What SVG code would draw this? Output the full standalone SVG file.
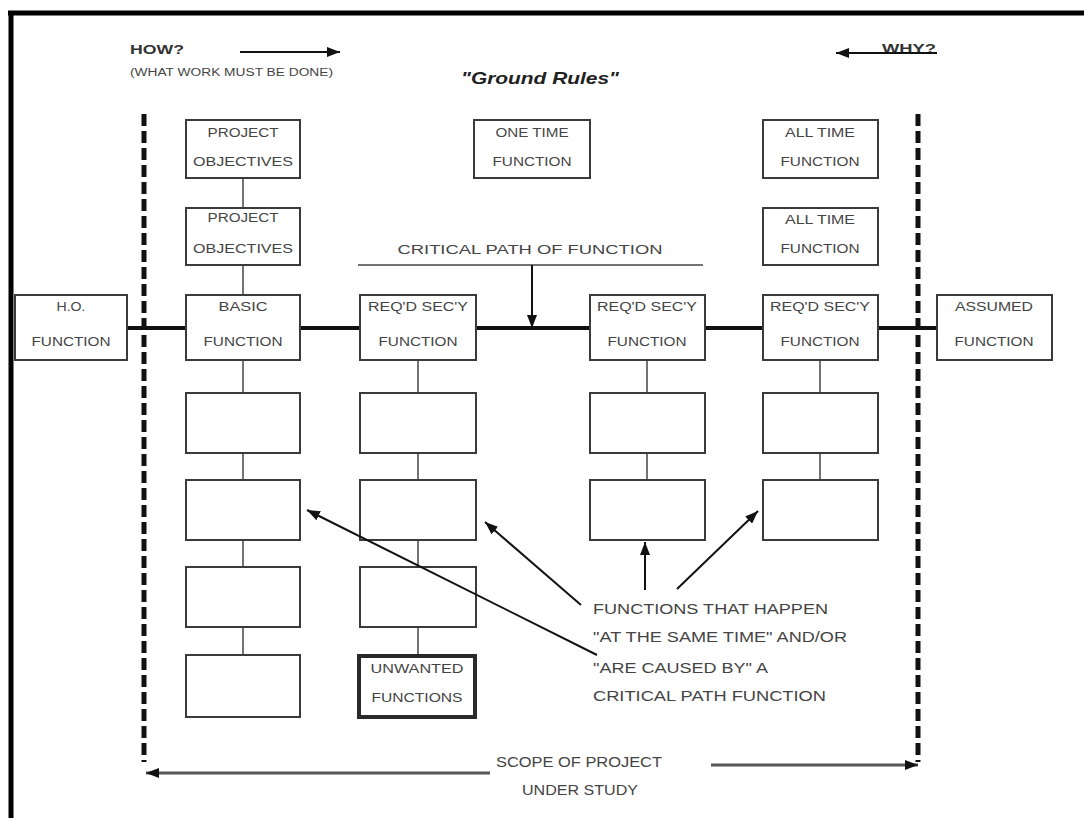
<svg xmlns="http://www.w3.org/2000/svg" width="1084" height="818" viewBox="0 0 1084 818">
  <style>
    .box { fill: #ffffff; stroke: #3a3a3a; stroke-width: 2; }
    .heavy { fill: #ffffff; stroke: #2a2a2a; stroke-width: 4; }
    .lbl { font-family: "Liberation Sans", Arial, sans-serif; font-size: 12px; fill: #444; text-anchor: middle; }
    .note { font-family: "Liberation Sans", Arial, sans-serif; font-size: 14px; fill: #444; }
    .link { stroke: #444; stroke-width: 1.5; fill: none; }
    .path { stroke: #111; stroke-width: 4; fill: none; }
    .arrow { stroke: #111; stroke-width: 2; fill: none; }
    .scope { stroke: #555; stroke-width: 3; fill: none; }
    .dash { stroke: #111; stroke-width: 5; stroke-dasharray: 12 5; fill: none; }
  </style>
  <defs>
    <marker id="head" markerUnits="userSpaceOnUse" markerWidth="14" markerHeight="10" refX="13" refY="5" orient="auto">
      <path d="M0,0 L13,5 L0,10 z" fill="#111"/>
    </marker>
  </defs>

  <rect width="1084" height="818" fill="#ffffff"/>

  <!-- outer frame (top and left edges) -->
  <line x1="8" y1="13" x2="1084" y2="13" stroke="#000" stroke-width="5"/>
  <line x1="11" y1="11" x2="11" y2="818" stroke="#000" stroke-width="5"/>

  <!-- header -->
  <g id="how">
    <text x="130" y="54" font-family="Liberation Sans, Arial, sans-serif" font-size="13" font-weight="bold" fill="#333" textLength="54" lengthAdjust="spacingAndGlyphs">HOW?</text>
    <text x="130" y="76" font-family="Liberation Sans, Arial, sans-serif" font-size="10" fill="#444" textLength="203" lengthAdjust="spacingAndGlyphs">(WHAT WORK MUST BE DONE)</text>
    <line x1="240" y1="52" x2="340" y2="52" class="arrow" marker-end="url(#head)"/>
  </g>
  <g id="why">
    <text x="882" y="53" font-family="Liberation Sans, Arial, sans-serif" font-size="13" font-weight="bold" fill="#333" textLength="54" lengthAdjust="spacingAndGlyphs">WHY?</text>
    <line x1="937" y1="53" x2="836" y2="53" class="arrow" marker-end="url(#head)"/>
  </g>
  <text id="ground-rules" x="540" y="84" font-family="Liberation Sans, Arial, sans-serif" font-size="17" font-weight="bold" font-style="italic" fill="#222" text-anchor="middle" textLength="158" lengthAdjust="spacingAndGlyphs">"Ground Rules"</text>

  <!-- scope boundaries -->
  <line x1="144" y1="114" x2="144" y2="762" class="dash"/>
  <line x1="918" y1="114" x2="918" y2="762" class="dash"/>

  <!-- connectors -->
  <g id="connectors">
    <line x1="127" y1="328" x2="937" y2="328" class="path"/>
    <line x1="358" y1="265" x2="703" y2="265" class="link" stroke-width="2"/>
    <line x1="532" y1="265" x2="532" y2="328" class="arrow" stroke-width="1.8" marker-end="url(#head)"/>
    <!-- column 1 -->
    <line x1="243" y1="178" x2="243" y2="208" class="link"/>
    <line x1="243" y1="265" x2="243" y2="294" class="link"/>
    <line x1="243" y1="360" x2="243" y2="393" class="link"/>
    <line x1="243" y1="453" x2="243" y2="480" class="link"/>
    <line x1="243" y1="540" x2="243" y2="567" class="link"/>
    <line x1="243" y1="627" x2="243" y2="655" class="link"/>
    <!-- column 2 -->
    <line x1="418" y1="360" x2="418" y2="393" class="link"/>
    <line x1="418" y1="453" x2="418" y2="480" class="link"/>
    <line x1="418" y1="540" x2="418" y2="567" class="link"/>
    <line x1="418" y1="627" x2="418" y2="655" class="link"/>
    <!-- column 3 -->
    <line x1="647" y1="360" x2="647" y2="393" class="link"/>
    <line x1="647" y1="453" x2="647" y2="480" class="link"/>
    <!-- column 4 -->
    <line x1="820" y1="360" x2="820" y2="393" class="link"/>
    <line x1="820" y1="453" x2="820" y2="480" class="link"/>
  </g>
  <text x="530" y="254" class="lbl" font-size="13" textLength="265" lengthAdjust="spacingAndGlyphs">CRITICAL PATH OF FUNCTION</text>

  <!-- nodes -->
  <g id="project-objectives-1">
    <rect x="186" y="120" width="114" height="58" class="box"/>
    <text x="243" y="137" class="lbl" textLength="71" lengthAdjust="spacingAndGlyphs">PROJECT</text>
    <text x="243" y="166" class="lbl" textLength="100" lengthAdjust="spacingAndGlyphs">OBJECTIVES</text>
  </g>
  <g id="project-objectives-2">
    <rect x="186" y="208" width="114" height="57" class="box"/>
    <text x="243" y="222" class="lbl" textLength="71" lengthAdjust="spacingAndGlyphs">PROJECT</text>
    <text x="243" y="253" class="lbl" textLength="100" lengthAdjust="spacingAndGlyphs">OBJECTIVES</text>
  </g>
  <g id="one-time-function">
    <rect x="474" y="120" width="116" height="58" class="box"/>
    <text x="532" y="137" class="lbl" textLength="73" lengthAdjust="spacingAndGlyphs">ONE TIME</text>
    <text x="532" y="166" class="lbl" textLength="79" lengthAdjust="spacingAndGlyphs">FUNCTION</text>
  </g>
  <g id="all-time-function-1">
    <rect x="763" y="120" width="115" height="58" class="box"/>
    <text x="820" y="137" class="lbl" textLength="70" lengthAdjust="spacingAndGlyphs">ALL TIME</text>
    <text x="820" y="166" class="lbl" textLength="79" lengthAdjust="spacingAndGlyphs">FUNCTION</text>
  </g>
  <g id="all-time-function-2">
    <rect x="763" y="208" width="115" height="57" class="box"/>
    <text x="820" y="224" class="lbl" textLength="70" lengthAdjust="spacingAndGlyphs">ALL TIME</text>
    <text x="820" y="253" class="lbl" textLength="79" lengthAdjust="spacingAndGlyphs">FUNCTION</text>
  </g>

  <g id="ho-function">
    <rect x="15" y="295" width="112" height="65" class="box"/>
    <text x="71" y="311" class="lbl" textLength="29" lengthAdjust="spacingAndGlyphs">H.O.</text>
    <text x="71" y="346" class="lbl" textLength="79" lengthAdjust="spacingAndGlyphs">FUNCTION</text>
  </g>
  <g id="basic-function">
    <rect x="186" y="295" width="114" height="65" class="box"/>
    <text x="243" y="311" class="lbl" textLength="49" lengthAdjust="spacingAndGlyphs">BASIC</text>
    <text x="243" y="346" class="lbl" textLength="79" lengthAdjust="spacingAndGlyphs">FUNCTION</text>
  </g>
  <g id="reqd-secy-1">
    <rect x="360" y="295" width="116" height="65" class="box"/>
    <text x="418" y="311" class="lbl" textLength="100" lengthAdjust="spacingAndGlyphs">REQ'D SEC'Y</text>
    <text x="418" y="346" class="lbl" textLength="79" lengthAdjust="spacingAndGlyphs">FUNCTION</text>
  </g>
  <g id="reqd-secy-2">
    <rect x="590" y="295" width="115" height="65" class="box"/>
    <text x="647" y="311" class="lbl" textLength="100" lengthAdjust="spacingAndGlyphs">REQ'D SEC'Y</text>
    <text x="647" y="346" class="lbl" textLength="79" lengthAdjust="spacingAndGlyphs">FUNCTION</text>
  </g>
  <g id="reqd-secy-3">
    <rect x="763" y="295" width="115" height="65" class="box"/>
    <text x="820" y="311" class="lbl" textLength="100" lengthAdjust="spacingAndGlyphs">REQ'D SEC'Y</text>
    <text x="820" y="346" class="lbl" textLength="79" lengthAdjust="spacingAndGlyphs">FUNCTION</text>
  </g>
  <g id="assumed-function">
    <rect x="937" y="295" width="115" height="65" class="box"/>
    <text x="994" y="311" class="lbl" textLength="78" lengthAdjust="spacingAndGlyphs">ASSUMED</text>
    <text x="994" y="346" class="lbl" textLength="79" lengthAdjust="spacingAndGlyphs">FUNCTION</text>
  </g>

  <!-- empty secondary boxes -->
  <g id="c1-r1"><rect x="186" y="393" width="114" height="60" class="box"/></g>
  <g id="c1-r2"><rect x="186" y="480" width="114" height="60" class="box"/></g>
  <g id="c1-r3"><rect x="186" y="567" width="114" height="60" class="box"/></g>
  <g id="c1-r4"><rect x="186" y="655" width="114" height="62" class="box"/></g>
  <g id="c2-r1"><rect x="360" y="393" width="116" height="60" class="box"/></g>
  <g id="c2-r2"><rect x="360" y="480" width="116" height="60" class="box"/></g>
  <g id="c2-r3"><rect x="360" y="567" width="116" height="60" class="box"/></g>
  <g id="unwanted-functions">
    <rect x="359" y="656" width="116" height="61" class="heavy"/>
    <text x="417" y="673" class="lbl" textLength="93" lengthAdjust="spacingAndGlyphs">UNWANTED</text>
    <text x="417" y="702" class="lbl" textLength="91" lengthAdjust="spacingAndGlyphs">FUNCTIONS</text>
  </g>
  <g id="c3-r1"><rect x="590" y="393" width="115" height="60" class="box"/></g>
  <g id="c3-r2"><rect x="590" y="480" width="115" height="60" class="box"/></g>
  <g id="c4-r1"><rect x="763" y="393" width="115" height="60" class="box"/></g>
  <g id="c4-r2"><rect x="763" y="480" width="115" height="60" class="box"/></g>

  <!-- callout arrows -->
  <g id="callouts">
    <line x1="597" y1="655" x2="307" y2="510" class="arrow" marker-end="url(#head)"/>
    <line x1="581" y1="605" x2="485" y2="522" class="arrow" marker-end="url(#head)"/>
    <line x1="645" y1="590" x2="645" y2="542" class="arrow" marker-end="url(#head)"/>
    <line x1="677" y1="589" x2="758" y2="511" class="arrow" marker-end="url(#head)"/>
  </g>
  <g id="callout-text">
    <text x="593" y="614" class="note" textLength="235" lengthAdjust="spacingAndGlyphs">FUNCTIONS THAT HAPPEN</text>
    <text x="593" y="642" class="note" textLength="254" lengthAdjust="spacingAndGlyphs">"AT THE SAME TIME" AND/OR</text>
    <text x="593" y="673" class="note" textLength="175" lengthAdjust="spacingAndGlyphs">"ARE CAUSED BY" A</text>
    <text x="593" y="701" class="note" textLength="233" lengthAdjust="spacingAndGlyphs">CRITICAL PATH FUNCTION</text>
  </g>

  <!-- scope of project -->
  <g id="scope">
    <line x1="490" y1="773" x2="146" y2="773" class="scope" marker-end="url(#head)"/>
    <line x1="711" y1="765" x2="918" y2="765" class="scope" marker-end="url(#head)"/>
    <text x="579" y="767" class="note" text-anchor="middle" font-size="13" textLength="166" lengthAdjust="spacingAndGlyphs">SCOPE OF PROJECT</text>
    <text x="580" y="795" class="note" text-anchor="middle" font-size="13" textLength="116" lengthAdjust="spacingAndGlyphs">UNDER STUDY</text>
  </g>
</svg>
